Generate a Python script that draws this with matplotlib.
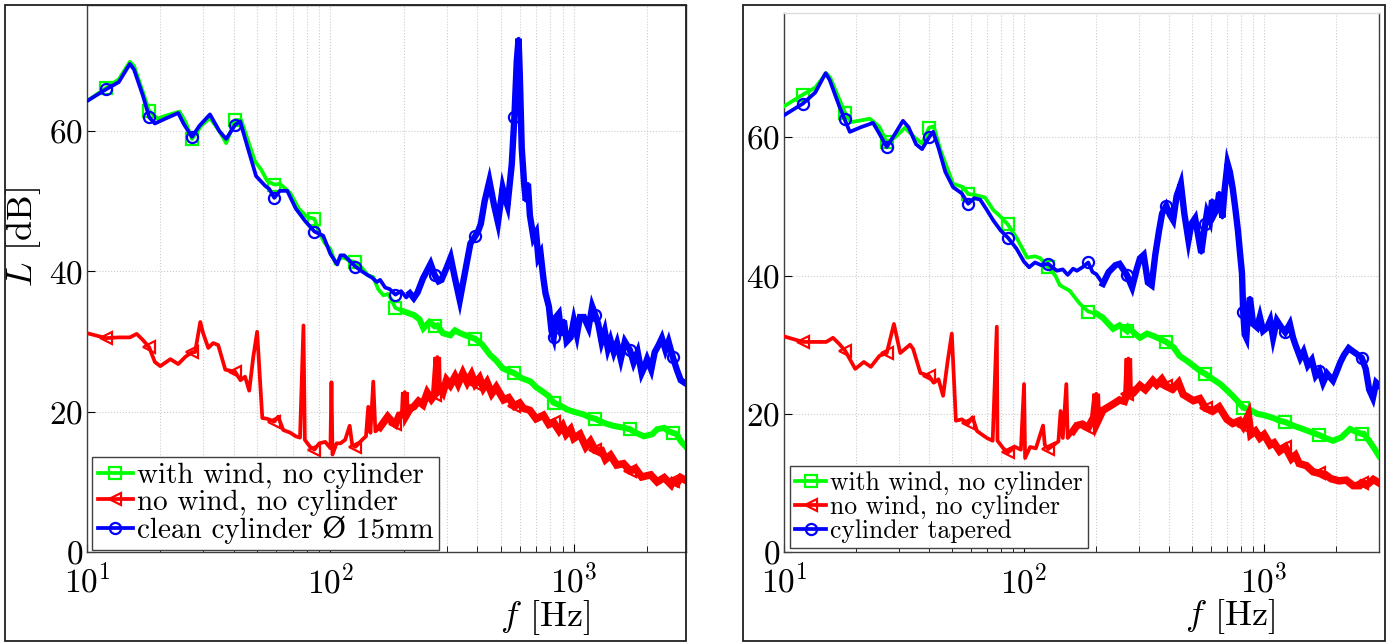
"""
Sound pressure level spectra, two panels (clean cylinder vs tapered cylinder).
Writes out.png (1390 x 643).
"""

import numpy as np
import matplotlib
matplotlib.use('Agg')
import matplotlib.pyplot as plt
from matplotlib.patches import Rectangle

plt.rcParams['font.family'] = 'serif'
plt.rcParams['font.serif'] = ['cmr10', 'DejaVu Serif']
plt.rcParams['mathtext.fontset'] = 'cm'
plt.rcParams['axes.formatter.use_mathtext'] = True

# ── data ─────────────────────────────────────────────────────────────────────
# left panel: clean cylinder
L_BLUE_F = [10, 12, 13.5, 15, 15.6, 17, 18, 19, 21, 23.7, 25, 27, 29, 32, 35, 37.3, 40.6, 42.6, 45,
            49.5, 54, 56, 58.8, 62, 66.5, 72, 78.7, 86, 93.4, 100, 106.7, 110, 114, 120, 126.7, 135,
            142, 148.6, 155, 160, 168, 175, 185, 195, 205, 212, 220, 228, 240, 258, 268, 278, 286,
            300, 312, 325, 340, 360, 376, 393, 405, 415, 430, 450, 470, 488, 510, 522, 534, 556,
            570, 583, 593, 600, 611, 625, 635, 648, 660, 683, 700, 715, 730, 750, 765, 790, 810,
            826, 845, 868, 890, 910, 935, 970, 1000, 1030, 1060, 1100, 1150, 1190, 1225, 1260,
            1300, 1340, 1380, 1415, 1460, 1505, 1560, 1620, 1700, 1760, 1830, 1900, 1940, 2000,
            2080, 2150, 2230, 2300, 2380, 2450, 2550, 2650, 2750, 2890]
L_BLUE_L = [64.3, 66.0, 67.0, 69.6, 68.8, 65.0, 62.0, 61.1, 61.8, 62.6, 61.0, 59.2, 60.8, 62.4, 60.0,
            58.9, 60.9, 61.4, 58.5, 53.6, 52.2, 51.8, 50.5, 51.5, 51.5, 49.0, 47.2, 45.7, 45.1,
            42.5, 41.0, 42.3, 42.3, 41.5, 40.7, 40.0, 39.5, 39.1, 38.5, 38.8, 37.7, 37.5, 36.7,
            37.2, 36.3, 36.9, 36.2, 37.0, 39.0, 41.1, 39.5, 38.6, 38.8, 40.5, 42.0, 39.0, 35.9,
            40.5, 44.0, 45.0, 45.8, 46.8, 50.0, 52.9, 49.5, 47.0, 51.9, 50.5, 49.4, 55.3, 62.0,
            70.0, 73.2, 68.0, 57.6, 52.5, 50.1, 52.5, 48.0, 44.8, 45.5, 42.0, 42.6, 39.0, 36.9,
            35.0, 31.5, 30.6, 33.5, 34.0, 31.0, 33.0, 30.0, 30.6, 33.0, 31.0, 33.5, 33.5, 32.0,
            35.0, 33.8, 32.5, 30.0, 31.5, 29.0, 30.2, 28.5, 29.8, 27.5, 30.0, 28.8, 27.0, 28.5,
            25.5, 26.2, 27.5, 26.0, 28.5, 29.5, 30.5, 28.8, 30.0, 27.8, 26.0, 24.5, 24.0]

L_GREEN_F = [10, 12, 13.5, 15, 15.6, 17, 18, 19.5, 21, 24, 25.5, 27, 29.5, 32, 35, 37.3, 40.6, 43,
             45, 49, 52, 55, 58.8, 62, 68.4, 74, 80, 86, 90, 95, 100, 105, 109, 113, 119, 126.7,
             135, 142, 150, 157, 165, 173, 185, 200, 220, 232, 241, 255, 268, 275, 290, 311, 325,
             342, 365, 393, 420, 453, 480, 510, 550, 570, 610, 665, 700, 750, 790, 826, 880, 940,
             1000, 1100, 1160, 1225, 1330, 1450, 1615, 1700, 1800, 1940, 2100, 2200, 2350, 2450,
             2550, 2650, 2750, 2890]
L_GREEN_L = [64.3, 66.2, 67.4, 69.9, 69.3, 65.5, 62.9, 61.8, 62.2, 62.8, 61.2, 58.9, 60.8, 61.9,
             60.0, 58.3, 61.6, 61.6, 59.5, 55.7, 54.5, 52.9, 52.4, 52.5, 51.2, 49.0, 47.8, 47.5,
             45.5, 44.0, 43.2, 41.1, 41.8, 42.0, 41.6, 41.3, 40.5, 39.5, 39.2, 37.5, 36.6, 36.8,
             34.8, 34.3, 33.8, 33.2, 31.9, 32.8, 32.2, 32.3, 31.2, 30.9, 31.6, 31.2, 30.8, 30.4,
             29.6, 28.1, 27.3, 26.2, 25.7, 25.5, 24.8, 24.3, 23.5, 22.8, 22.2, 21.3, 20.9, 20.3,
             20.0, 19.6, 19.2, 19.0, 18.4, 18.0, 17.7, 17.5, 17.0, 16.5, 16.8, 17.5, 17.7, 17.2,
             17.0, 16.8, 15.8, 15.0]

L_RED_F = [10, 12, 13.5, 15, 16, 17, 18, 19, 20, 22, 23.7, 25.3, 27, 27.8, 29.2, 30, 31.5, 33, 34.6,
           37, 40.6, 42.7, 44.6, 46.4, 48.2, 50, 52.5, 55, 58.8, 61, 64, 68.5, 72, 75, 77.5, 78.5,
           82.5, 86, 90, 95.3, 100, 101, 102, 106, 110, 115, 120, 123, 126.7, 131, 135, 140, 143,
           146, 150, 153, 160, 172, 180, 185, 192, 200, 202, 205, 213, 220, 230, 240, 250, 260,
           268, 275, 277, 280, 290, 300, 311, 325, 335, 350, 365, 380, 393, 410, 425, 440, 460,
           480, 515, 540, 570, 600, 620, 660, 700, 750, 790, 826, 870, 900, 930, 970, 1000, 1060,
           1120, 1170, 1225, 1300, 1350, 1415, 1500, 1600, 1700, 1800, 1900, 2070, 2200, 2350,
           2510, 2550, 2650, 2750, 2890]
L_RED_L = [31.2, 30.5, 30.6, 30.6, 31.1, 30.2, 29.2, 27.1, 26.5, 27.5, 26.8, 27.8, 28.5, 28.5, 32.8,
           31.2, 29.1, 29.8, 29.5, 26.0, 25.7, 24.5, 25.0, 23.0, 27.8, 31.4, 19.1, 19.0, 18.6,
           19.3, 17.4, 17.0, 16.5, 16.3, 32.3, 16.0, 15.0, 14.6, 15.5, 15.7, 14.8, 24.2, 13.9,
           15.5, 15.5, 16.0, 18.0, 15.2, 15.0, 15.5, 16.0, 16.5, 20.7, 17.0, 24.3, 17.2, 17.8,
           19.3, 18.5, 18.2, 19.5, 19.6, 22.8, 19.5, 20.5, 20.7, 21.5, 21.0, 22.7, 21.8, 22.4,
           27.8, 22.5, 23.6, 22.8, 24.5, 23.8, 25.0, 24.0, 25.5, 24.2, 25.3, 24.0, 24.8, 23.4,
           24.2, 22.6, 23.5, 21.7, 22.0, 20.8, 21.2, 20.5, 20.2, 19.0, 19.5, 18.2, 18.5, 17.3,
           18.0, 16.8, 17.5, 16.2, 16.8, 15.0, 15.8, 14.5, 14.5, 13.2, 13.8, 12.4, 12.6, 11.6,
           11.8, 10.7, 11.0, 10.0, 10.6, 9.6, 10.1, 9.8, 10.6, 10.2]

# right panel: tapered cylinder
R_BLUE_F = [10, 12, 13.5, 14.9, 15.5, 17, 17.9, 18.8, 21, 23.5, 25, 26.8, 29, 31.3, 33, 35.5, 37.6,
            40.2, 41.8, 44, 47, 50.6, 55, 58.5, 62, 65.6, 70, 74.4, 80, 85.6, 93, 100, 105, 111,
            118, 126, 137, 145, 152, 160, 166, 175, 185, 193, 200, 213, 225, 240, 250, 268, 282,
            295, 304, 315, 328, 340, 352, 365, 376, 391, 405, 418, 432, 450, 465, 484, 498, 516,
            530, 547, 568, 578, 595, 607, 622, 637, 650, 670, 685, 704, 720, 740, 760, 778, 795,
            809, 818, 830, 843, 858, 873, 900, 935, 960, 990, 1030, 1060, 1090, 1130, 1180, 1225,
            1280, 1320, 1350, 1415, 1460, 1520, 1580, 1640, 1700, 1760, 1830, 1935, 2000, 2080,
            2150, 2250, 2330, 2420, 2550, 2650, 2740, 2840, 2930, 3010]
R_BLUE_L = [63.2, 64.9, 66.5, 69.3, 68.3, 64.5, 62.6, 60.8, 61.5, 62.1, 60.5, 58.6, 60.5, 62.4,
            61.5, 59.0, 58.3, 60.0, 60.8, 58.5, 55.0, 52.8, 51.9, 50.4, 51.2, 51.0, 49.5, 48.0,
            46.5, 45.5, 43.9, 42.0, 41.2, 41.9, 41.5, 41.7, 40.7, 40.9, 40.1, 41.0, 40.7, 41.2,
            41.9, 40.5, 40.2, 38.8, 40.5, 41.5, 41.7, 40.1, 38.3, 41.0, 42.5, 43.0, 39.0, 38.6,
            43.0, 46.5, 49.0, 50.1, 48.8, 48.0, 51.5, 53.3, 49.0, 45.1, 47.5, 48.3, 46.0, 43.3,
            47.4, 49.1, 48.0, 50.9, 49.0, 49.7, 52.0, 48.4, 52.5, 56.2, 55.0, 52.6, 49.5, 46.5,
            43.0, 40.3, 34.8, 31.5, 31.0, 35.0, 36.8, 33.0, 32.5, 34.0, 32.0, 32.5, 33.5, 31.0,
            33.5, 32.5, 31.8, 33.0, 31.0, 30.0, 28.1, 29.0, 27.0, 27.8, 25.5, 26.2, 24.5, 25.8,
            24.8, 26.0, 27.5, 28.5, 29.5, 29.1, 28.7, 28.1, 26.5, 23.5, 22.3, 24.5, 24.1]

R_GREEN_F = [10, 12, 13.5, 15, 15.6, 17, 18, 19, 22.8, 25, 26.8, 29, 31.9, 35, 37.6, 40.2, 42, 45,
             50.6, 55.7, 58.5, 62, 68.8, 74.4, 80, 85.6, 93, 103, 111, 117, 126, 135, 141, 155, 170,
             185, 200, 213, 235, 250, 268, 272, 290, 304, 325, 344, 370, 391, 420, 444, 480, 541,
             568, 600, 657, 700, 740, 772, 818, 870, 935, 1000, 1090, 1160, 1225, 1320, 1450, 1610,
             1700, 1800, 1935, 2100, 2280, 2450, 2550, 2600, 2750, 2900, 3010]
R_GREEN_L = [64.5, 66.2, 67.2, 69.3, 68.6, 65.5, 63.5, 62.2, 62.7, 61.5, 59.3, 60.0, 61.4, 60.0,
             59.1, 61.4, 61.6, 58.0, 53.3, 52.8, 51.8, 51.7, 51.3, 49.5, 48.5, 47.4, 45.5, 42.6,
             42.8, 42.5, 41.2, 40.0, 38.6, 37.8, 36.0, 34.8, 34.5, 33.9, 32.3, 32.8, 32.0, 32.5,
             31.6, 31.0, 31.6, 31.3, 30.8, 30.4, 29.6, 28.4, 27.6, 26.2, 25.8, 25.2, 24.3, 23.4,
             22.6, 21.9, 20.9, 20.6, 20.0, 19.8, 19.4, 19.0, 18.8, 18.3, 17.8, 17.2, 16.9, 16.5,
             16.1, 16.6, 17.8, 17.3, 17.1, 17.1, 16.0, 14.8, 13.9]

R_RED_F = [10, 12, 13.5, 15, 16, 17, 18, 19.8, 21.5, 23, 25, 26.8, 28.7, 30.5, 33.5, 34.5, 37, 40.2,
           42, 44, 46, 48, 50, 52, 55, 58.5, 61, 63.7, 70, 74, 77, 77.5, 82, 85.6, 92, 97, 100,
           101, 106, 112, 120, 122, 126, 133, 139, 142, 145, 150, 152, 160, 166, 175, 185, 195,
           200, 202, 213, 235, 250, 262, 268, 272, 274, 285, 304, 320, 344, 357, 375, 391, 417,
           440, 460, 507, 540, 570, 612, 650, 700, 740, 790, 818, 860, 880, 920, 960, 1000, 1060,
           1100, 1160, 1225, 1300, 1350, 1400, 1500, 1600, 1700, 1800, 1900, 2050, 2200, 2350,
           2500, 2550, 2700, 2850, 3010]
R_RED_L = [31.2, 30.4, 30.4, 30.4, 31.0, 30.1, 29.1, 26.5, 27.5, 26.8, 28.4, 28.8, 33.0, 28.8, 30.0,
           29.4, 25.9, 25.5, 24.5, 25.0, 22.6, 27.5, 31.6, 19.0, 19.2, 18.6, 19.5, 17.5, 16.5,
           16.1, 32.6, 16.1, 15.0, 14.4, 15.2, 14.8, 24.3, 13.6, 15.2, 15.0, 18.3, 15.5, 14.9,
           15.5, 16.0, 20.4, 16.5, 24.3, 16.5, 17.5, 18.3, 18.5, 18.0, 19.5, 22.9, 18.8, 20.5,
           21.4, 22.0, 21.8, 22.8, 28.0, 22.8, 23.0, 24.1, 23.5, 24.8, 24.2, 25.0, 24.0, 23.6,
           24.5, 22.8, 21.9, 22.2, 20.8, 20.4, 21.0, 19.2, 18.6, 19.0, 18.2, 19.8, 17.0, 17.5,
           16.5, 17.0, 15.5, 15.8, 14.6, 15.2, 13.5, 14.0, 12.8, 12.5, 11.6, 11.4, 11.2, 10.6,
           10.3, 10.4, 9.6, 9.6, 10.0, 9.8, 10.5, 10.0]

MARK_F_L = [12, 18, 27, 40.6, 58.8, 86, 126.7, 185, 268, 393, 570, 826, 1225, 1700, 2550]
MARK_F_R = [12, 18, 26.8, 40.2, 58.5, 85.6, 126, 185, 268, 391, 568, 818, 1225, 1700, 2550]

# above these frequencies the measured spectra are noisy bands (drawn thicker)
NOISY_FROM = {'green': 190, 'red': 160, 'blue': 210}
NOISY_LW   = {'green': 4.4, 'red': 5.4, 'blue': 4.6}

LABEL_GREEN = 'with wind, no cylinder'
LABEL_RED   = 'no wind, no cylinder'
LABEL_BLUE_L = 'clean cylinder Ø 15mm'
LABEL_BLUE_R = 'cylinder tapered'

COLORS = {'green': '#00ff00', 'red': '#ff0000', 'blue': '#0000ff'}
MARKERS = {'green': 's', 'red': '<', 'blue': 'o'}


def mark_idx(f, marks):
    lf = np.log10(np.asarray(f, dtype=float))
    return [int(np.argmin(np.abs(lf - np.log10(m)))) for m in marks]


def draw(ax, series, marks, xmax, labels, legend_size, legend_anchor):
    for z, (key, (f, lvl)) in enumerate(series.items()):
        f, lvl = np.asarray(f, float), np.asarray(lvl, float)
        ax.plot(f, lvl, color=COLORS[key], marker=MARKERS[key], markevery=mark_idx(f, marks),
                linewidth=2.7, markersize=8, markeredgewidth=1.6, fillstyle='none',
                label=labels[key], zorder=3 + z)
        m = f >= NOISY_FROM[key]
        ax.plot(f[m], lvl[m], color=COLORS[key], linewidth=NOISY_LW[key],
                solid_joinstyle='miter', zorder=3 + z)
    ax.set_xscale('log')
    ax.set_xlim(10, xmax)
    ax.set_ylim(0, 78)
    ax.set_yticks([0, 20, 40, 60])
    ax.grid(True, which='major', axis='y', ls=':', color='#cccccc', lw=0.8)
    ax.grid(True, which='both', axis='x', ls=':', color='#cccccc', lw=0.8)
    ax.tick_params(which='both', direction='in', labelsize=24)
    ax.tick_params(axis='x', which='major', length=6, pad=8)
    ax.tick_params(axis='x', which='minor', length=4)
    ax.tick_params(axis='y', length=6, pad=3)
    for s in ax.spines.values():
        s.set_color('#404040')
        s.set_linewidth(1.0)
    leg = ax.legend(loc='lower left', bbox_to_anchor=legend_anchor, borderaxespad=0,
                    prop={'family': ['cmr10', 'DejaVu Serif'], 'size': legend_size},
                    fancybox=False, framealpha=1, edgecolor='#404040', handlelength=1.2,
                    handletextpad=0.15, labelspacing=0.0, borderpad=0.2)
    leg.get_frame().set_linewidth(1.0)
    ax.set_xlabel('$f$ [Hz]', fontsize=26)


fig = plt.figure(figsize=(13.9, 6.43), dpi=100)
W, H = 1390.0, 643.0

axL = fig.add_axes([87 / W, 1 - 552 / H, (686 - 87) / W, (552 - 5) / H])
axR = fig.add_axes([784 / W, 1 - 552 / H, (1379 - 784) / W, (552 - 13) / H])

draw(axL, {'green': (L_GREEN_F, L_GREEN_L), 'red': (L_RED_F, L_RED_L),
           'blue': (L_BLUE_F, L_BLUE_L)},
     MARK_F_L, 2890, {'green': LABEL_GREEN, 'red': LABEL_RED, 'blue': LABEL_BLUE_L},
     21, (0.008, 0.004))
draw(axR, {'green': (R_GREEN_F, R_GREEN_L), 'red': (R_RED_F, R_RED_L),
           'blue': (R_BLUE_F, R_BLUE_L)},
     MARK_F_R, 3010, {'green': LABEL_GREEN, 'red': LABEL_RED, 'blue': LABEL_BLUE_R},
     18.5, (0.01, 0.007))

axL.set_ylabel('$L$ [dB]', fontsize=26)
axL.yaxis.set_label_coords(-0.073, 0.575)
axL.xaxis.set_label_coords(0.765, -0.084)
axR.xaxis.set_label_coords(0.75, -0.084)
axR.spines['top'].set_color('#dcdcdc')

# outer frames round each panel
for x0, x1 in [(5, 686), (743, 1385)]:
    fig.add_artist(Rectangle((x0 / W, 1 - 641 / H), (x1 - x0) / W, (641 - 5) / H,
                             transform=fig.transFigure, fill=False, ec='#202020', lw=1.3))

fig.savefig('out.png', dpi=100)
print('Saved: out.png')
